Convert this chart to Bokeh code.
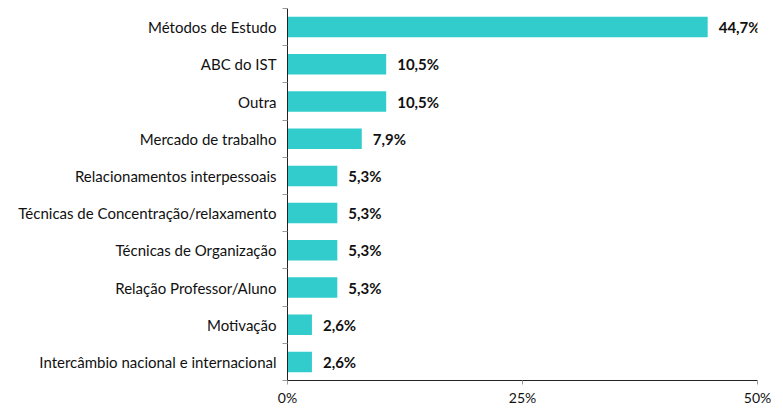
from bokeh.plotting import figure
from bokeh.models import Range1d, FixedTicker, PrintfTickFormatter, ColumnDataSource
from bokeh.core.properties import value
from bokeh.embed import file_html
from bokeh.resources import INLINE

categories = ["Métodos de Estudo", "ABC do IST", "Outra", "Mercado de trabalho",
              "Relacionamentos interpessoais", "Técnicas de Concentração/relaxamento",
              "Técnicas de Organização", "Relação Professor/Aluno", "Motivação",
              "Intercâmbio nacional e internacional"]
values = [44.7, 10.5, 10.5, 7.9, 5.3, 5.3, 5.3, 5.3, 2.6, 2.6]
x_ticks = [0, 25, 50]

n = len(categories)
ypos = [n - 0.5 - i for i in range(n)]
labels = [f"{v:.1f}".replace(".", ",") + "%" for v in values]

src = ColumnDataSource(dict(y=ypos, v=values, lab=labels))

FONT = "Lato"
p = figure(width=775, height=408, output_backend="svg", toolbar_location=None,
           x_range=Range1d(0, 50), y_range=Range1d(0, n),
           min_border_left=287, min_border_right=18, min_border_top=8, min_border_bottom=27)
p.outline_line_color = None
p.xgrid.visible = False
p.ygrid.visible = False

p.hbar(y="y", right="v", left=0, height=0.55, source=src, color="#33CCCC", line_color=None)
p.text(x="v", y="y", text="lab", source=src, x_offset=11, text_baseline="middle",
       text_font=value(FONT), text_font_style="bold", text_font_size="15px", text_color="#111111")

xa = p.xaxis[0]
xa.ticker = FixedTicker(ticks=x_ticks, minor_ticks=[])
xa.formatter = PrintfTickFormatter(format="%d%%")
xa.major_label_text_font = FONT
xa.major_label_text_font_size = "14px"
xa.major_label_text_color = "#111111"
xa.axis_line_color = "#222222"
xa.major_tick_line_color = "#999999"
xa.major_tick_out = 4
xa.major_tick_in = 0
xa.minor_tick_line_color = None
xa.major_label_standoff = 4

ya = p.yaxis[0]
ya.ticker = FixedTicker(ticks=ypos, minor_ticks=list(range(n + 1)))
ya.major_label_overrides = {y: c for y, c in zip(ypos, categories)}
ya.major_label_text_font = FONT
ya.major_label_text_font_size = "15px"
ya.major_label_text_color = "#111111"
ya.axis_line_color = "#222222"
ya.major_tick_line_color = None
ya.major_tick_out = 5
ya.minor_tick_out = 5
ya.minor_tick_in = 0
ya.minor_tick_line_color = "#999999"
ya.major_label_standoff = 6

open("out.html", "w").write(file_html(p, INLINE))
